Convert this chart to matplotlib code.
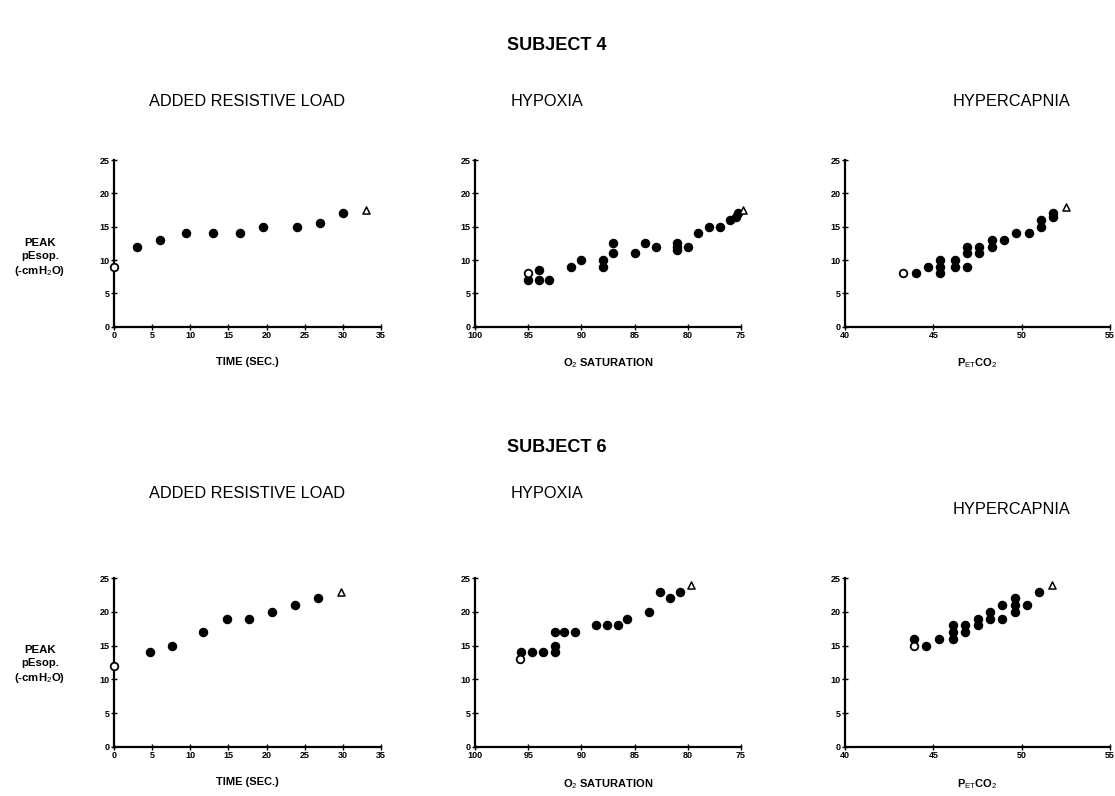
import numpy as np
from matplotlib import pyplot as plt

plt.rcParams['font.family'] = ['Liberation Sans', 'DejaVu Sans']
plt.rcParams['mathtext.fontset'] = 'custom'
plt.rcParams['mathtext.rm'] = 'Liberation Sans'
plt.rcParams['mathtext.it'] = 'Liberation Sans'

# Subject 4
s4_load_x = [3, 6, 9.5, 13, 16.5, 19.5, 24, 27, 30]
s4_load_y = [12, 13, 14, 14, 14, 15, 15, 15.5, 17]
s4_load_open = [0, 9]
s4_load_tri = [33, 17.5]

s4_hypox_x = [95, 94, 94, 93, 91, 90, 88, 88, 87, 87, 85, 84, 83, 81, 81, 81, 80, 79, 78, 77, 76, 75.5, 75.3]
s4_hypox_y = [7, 8.5, 7, 7, 9, 10, 10, 9, 12.5, 11, 11, 12.5, 12, 12.5, 12, 11.5, 12, 14, 15, 15, 16, 16.5, 17]
s4_hypox_open = [95, 8]
s4_hypox_tri = [74.8, 17.5]

s4_hcap_x = [44, 44.7, 45.4, 45.4, 45.4, 46.2, 46.2, 46.9, 46.9, 46.9, 47.6, 47.6,
             48.3, 48.3, 49, 49.7, 50.4, 51.1, 51.1, 51.8, 51.8]
s4_hcap_y = [8, 9, 10, 9, 8, 10, 9, 12, 11, 9, 12, 11, 13, 12, 13, 14, 14, 16, 15, 17, 16.5]
s4_hcap_open = [43.3, 8]
s4_hcap_tri = [52.5, 18]

# Subject 6
s6_load_x = [4.7, 7.6, 11.7, 14.8, 17.7, 20.7, 23.7, 26.8]
s6_load_y = [14, 15, 17, 19, 19, 20, 21, 22]
s6_load_open = [0, 12]
s6_load_tri = [29.7, 23]

s6_hypox_x = [95.7, 94.6, 93.6, 92.5, 92.5, 92.5, 91.6, 90.6, 88.6, 87.6, 86.6, 85.7, 83.6, 82.6, 81.7, 80.7]
s6_hypox_y = [14, 14, 14, 14, 15, 17, 17, 17, 18, 18, 18, 19, 20, 23, 22, 23]
s6_hypox_open = [95.8, 13]
s6_hypox_tri = [79.7, 24]

s6_hcap_x = [43.9, 44.6, 45.3, 46.1, 46.1, 46.1, 46.8, 46.8, 47.5, 47.5, 48.2, 48.2,
             48.9, 48.9, 49.6, 49.6, 49.6, 50.3, 51.0]
s6_hcap_y = [16, 15, 16, 18, 17, 16, 18, 17, 19, 18, 20, 19, 21, 19, 22, 21, 20, 21, 23]
s6_hcap_open = [43.9, 15]
s6_hcap_tri = [51.7, 24]

load_ticks = [0, 5, 10, 15, 20, 25, 30, 35]
hypox_ticks = [100, 95, 90, 85, 80, 75]
hcap_ticks = [40, 45, 50, 55]
y_ticks = [0, 5, 10, 15, 20, 25]

W, H = 1115, 796
fig = plt.figure(figsize=(W / 100, H / 100), dpi=100)


def rect(x0, x1, ytop, ybot):
    return [x0 / W, 1 - ybot / H, (x1 - x0) / W, (ybot - ytop) / H]


def panel(r, x, y, op, tri, xlim, xticks, xlabel):
    ax = fig.add_axes(r)
    ax.scatter(x, y, s=34, color='black', zorder=3, clip_on=False)
    ax.scatter([op[0]], [op[1]], s=30, facecolor='white', edgecolor='black',
               linewidth=1.3, zorder=4, clip_on=False)
    ax.scatter([tri[0]], [tri[1]], s=26, marker='^', facecolor='white',
               edgecolor='black', linewidth=1.1, zorder=4, clip_on=False)
    ax.set_xlim(xlim)
    ax.set_ylim(0, 25)
    ax.set_xticks(xticks)
    ax.set_yticks(y_ticks)
    ax.spines['top'].set_visible(False)
    ax.spines['right'].set_visible(False)
    ax.spines['left'].set_linewidth(1.6)
    ax.spines['bottom'].set_linewidth(1.6)
    ax.tick_params(direction='inout', length=4, width=1, labelsize=6.5, pad=1)
    for lab in ax.get_xticklabels() + ax.get_yticklabels():
        lab.set_fontweight('bold')
    ax.set_xlabel(xlabel, fontsize=8, fontweight='bold', labelpad=12)
    return ax


cols = [[114, 381], [475, 741], [845, 1110]]
rows = [[160, 326.7], [578, 747]]

xl_time = 'TIME (SEC.)'
xl_o2 = r'O$_2$ SATURATION'
xl_co2 = r'P$_{\mathrm{ET}}$CO$_2$'

panel(rect(*cols[0], *rows[0]), s4_load_x, s4_load_y, s4_load_open, s4_load_tri, (0, 35), load_ticks, xl_time)
panel(rect(*cols[1], *rows[0]), s4_hypox_x, s4_hypox_y, s4_hypox_open, s4_hypox_tri, (100, 75), hypox_ticks, xl_o2)
panel(rect(*cols[2], *rows[0]), s4_hcap_x, s4_hcap_y, s4_hcap_open, s4_hcap_tri, (40, 55), hcap_ticks, xl_co2)
panel(rect(*cols[0], *rows[1]), s6_load_x, s6_load_y, s6_load_open, s6_load_tri, (0, 35), load_ticks, xl_time)
panel(rect(*cols[1], *rows[1]), s6_hypox_x, s6_hypox_y, s6_hypox_open, s6_hypox_tri, (100, 75), hypox_ticks, xl_o2)
panel(rect(*cols[2], *rows[1]), s6_hcap_x, s6_hcap_y, s6_hcap_open, s6_hcap_tri, (40, 55), hcap_ticks, xl_co2)

# titles
fig.text(557 / W, 1 - 45 / H, 'SUBJECT 4', ha='center', va='center', fontsize=13, fontweight='bold')
fig.text(557 / W, 1 - 448 / H, 'SUBJECT 6', ha='center', va='center', fontsize=13, fontweight='bold')
for yy, yh in [(102, 102), (493, 510)]:
    fig.text(247 / W, 1 - yy / H, 'ADDED RESISTIVE LOAD', ha='center', va='center', fontsize=11.8)
    fig.text(547 / W, 1 - yy / H, 'HYPOXIA', ha='center', va='center', fontsize=11.8)
    fig.text(1012 / W, 1 - yh / H, 'HYPERCAPNIA', ha='center', va='center', fontsize=11.8)

# y labels
for yy in [258, 665]:
    fig.text(40 / W, 1 - yy / H, 'PEAK\npEsop.\n(-cmH$_2$O)', ha='center', va='center',
             fontsize=8.2, fontweight='bold', linespacing=1.3)

plt.savefig('out.png', dpi=100)
